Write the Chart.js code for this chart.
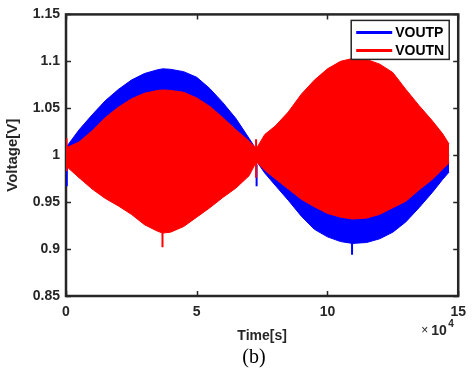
<!DOCTYPE html>
<html>
<head>
<meta charset="utf-8">
<script src="https://cdn.jsdelivr.net/npm/chart.js@4.4.1/dist/chart.umd.min.js"></script>
<style>
    html, body { margin: 0; padding: 0; background: #fff; }
    #chart { display: block; }
</style>
</head>
<body>
<canvas id="chart" width="474" height="372"></canvas>
<script>
// data (time in units of 1e4 s)
const seriesNames = ['VOUTP', 'VOUTN'];
const seriesColors = ['#0000ff', '#ff0000'];

const timeGrid = [0, 0.1, 0.5, 1.0, 1.5, 2.0, 2.5, 3.0, 3.5, 3.7, 4.0, 4.5, 5.0, 5.5, 6.0, 6.5, 7.0, 7.28,
    7.6, 8.0, 8.5, 9.0, 9.5, 10.0, 10.5, 10.95, 11.5, 12.0, 12.5, 13.0, 13.5, 14.0, 14.4, 14.65];

// envelope of the VOUTP oscillation
const voutpUpper = [1.008, 1.012, 1.027, 1.043, 1.058, 1.07, 1.08, 1.087, 1.091, 1.092, 1.0915, 1.089, 1.083, 1.071, 1.056, 1.039, 1.018, 1.006,
    1.01, 1.02, 1.03, 1.045, 1.06, 1.07, 1.077, 1.08, 1.079, 1.074, 1.065, 1.05, 1.035, 1.02, 1.01, 1.0];
const voutpLower = [0.992, 0.993, 0.985, 0.974, 0.964, 0.956, 0.948, 0.94, 0.934, 0.932, 0.933, 0.937, 0.944, 0.953, 0.962, 0.972, 0.983, 0.994,
    0.981, 0.968, 0.952, 0.935, 0.921, 0.913, 0.908, 0.906, 0.907, 0.911, 0.918, 0.929, 0.944, 0.96, 0.974, 0.982];

// envelope of the VOUTN oscillation
const voutnUpper = [1.009, 1.009, 1.014, 1.026, 1.04, 1.051, 1.06, 1.066, 1.069, 1.0695, 1.069, 1.067, 1.061, 1.052, 1.04, 1.027, 1.015, 1.007,
    1.022, 1.031, 1.046, 1.065, 1.08, 1.092, 1.1, 1.103, 1.102, 1.097, 1.088, 1.07, 1.053, 1.037, 1.023, 1.012];
const voutnLower = [0.988, 0.986, 0.976, 0.964, 0.954, 0.946, 0.937, 0.926, 0.919, 0.917, 0.918, 0.924, 0.934, 0.944, 0.955, 0.965, 0.978, 0.993,
    0.984, 0.975, 0.964, 0.953, 0.945, 0.938, 0.934, 0.932, 0.933, 0.937, 0.944, 0.951, 0.963, 0.974, 0.985, 0.992];

// short switching spikes
const voutpSpikeTime = [0.03, 7.29, 10.94];
const voutpSpikeLow = [0.967, 0.967, 0.894];
const voutpSpikeHigh = [0.99, 0.99, 0.91];
const voutnSpikeTime = [0.02, 3.69, 7.27];
const voutnSpikeLow = [0.983, 0.902, 0.976];
const voutnSpikeHigh = [1.018, 0.918, 1.017];

const xTickValues = [0, 5, 10, 15];
const xTickLabels = ['0', '5', '10', '15'];
const yTickValues = [0.85, 0.9, 0.95, 1.0, 1.05, 1.1, 1.15];
const yTickLabels = ['0.85', '0.9', '0.95', '1', '1.05', '1.1', '1.15'];

const axisColor = '#262626';
const sansFont = '"Liberation Sans", Arial, sans-serif';

function toPoints(xs, ys) {
    return xs.map((x, i) => ({ x: x, y: ys[i] }));
}

function bandDatasets(upper, lower, color, order) {
    return [
        { data: toPoints(timeGrid, upper), borderColor: color, backgroundColor: color, borderWidth: 1, fill: '+1', order: order },
        { data: toPoints(timeGrid, lower), borderColor: color, backgroundColor: color, borderWidth: 1, fill: false, order: order }
    ];
}

function spikeDatasets(times, lows, highs, color, order) {
    return times.map((t, i) => ({
        data: [{ x: t, y: lows[i] }, { x: t, y: highs[i] }],
        borderColor: color,
        borderWidth: 2,
        fill: false,
        order: order
    }));
}

// frame, inward ticks, legend and extra labels in the matlab look
const matlabDecor = {
    id: 'matlabDecor',
    beforeDatasetsDraw(chart) {
        const { ctx, chartArea: a, scales } = chart;
        ctx.save();
        ctx.strokeStyle = axisColor;
        ctx.lineWidth = 1.5;
        ctx.beginPath();
        yTickValues.forEach((v) => {
            const py = Math.round(scales.y.getPixelForValue(v)) + 0.5;
            ctx.moveTo(a.left, py); ctx.lineTo(a.left + 5, py);
            ctx.moveTo(a.right, py); ctx.lineTo(a.right - 5, py);
        });
        xTickValues.forEach((v) => {
            const px = Math.round(scales.x.getPixelForValue(v)) + 0.5;
            ctx.moveTo(px, a.bottom); ctx.lineTo(px, a.bottom - 5);
            ctx.moveTo(px, a.top); ctx.lineTo(px, a.top + 5);
        });
        ctx.stroke();
        ctx.lineWidth = 2.5;
        ctx.strokeRect(a.left, a.top, a.right - a.left, a.bottom - a.top);
        ctx.restore();
    },
    afterDraw(chart) {
        const { ctx, chartArea: a } = chart;
        ctx.save();

        // legend box
        const bx = a.right - 107, by = a.top + 6, bw = 98, bh = 39;
        ctx.fillStyle = '#fff';
        ctx.fillRect(bx, by, bw, bh);
        ctx.strokeStyle = axisColor;
        ctx.lineWidth = 1.5;
        ctx.strokeRect(bx, by, bw, bh);
        ctx.font = 'bold 14px ' + sansFont;
        ctx.textBaseline = 'middle';
        ctx.textAlign = 'left';
        seriesNames.forEach((name, i) => {
            const ly = by + 12 + i * 18;
            ctx.strokeStyle = seriesColors[i];
            ctx.lineWidth = 3;
            ctx.beginPath();
            ctx.moveTo(bx + 5, ly);
            ctx.lineTo(bx + 41, ly);
            ctx.stroke();
            ctx.fillStyle = '#000';
            ctx.fillText(name, bx + 44, ly + 1);
        });

        // x10^4 exponent under the x axis
        ctx.fillStyle = axisColor;
        ctx.font = '12px ' + sansFont;
        ctx.fillText('\u00d7', a.right - 37, a.bottom + 35);
        ctx.font = 'bold 14px ' + sansFont;
        ctx.fillText('10', a.right - 27, a.bottom + 35);
        ctx.font = 'bold 10px ' + sansFont;
        ctx.fillText('4', a.right - 10, a.bottom + 28);

        // panel caption
        ctx.fillStyle = '#000';
        ctx.font = '20px "Liberation Serif", "Times New Roman", serif';
        ctx.textAlign = 'center';
        ctx.fillText('(b)', 254, 358);
        ctx.restore();
    }
};

const ctxt = document.getElementById('chart').getContext('2d');

const datasets = [].concat(
    bandDatasets(voutnUpper, voutnLower, seriesColors[1], 0),
    spikeDatasets(voutnSpikeTime, voutnSpikeLow, voutnSpikeHigh, seriesColors[1], 0),
    bandDatasets(voutpUpper, voutpLower, seriesColors[0], 1),
    spikeDatasets(voutpSpikeTime, voutpSpikeLow, voutpSpikeHigh, seriesColors[0], 1)
);

const chart = new Chart(ctxt, {
    type: 'line',
    data: { datasets: datasets },
    options: {
        responsive: false,
        animation: false,
        events: [],
        layout: { padding: { top: 11, right: 14, bottom: 22, left: 0 } },
        elements: { point: { radius: 0 }, line: { tension: 0 } },
        plugins: { legend: { display: false }, tooltip: { enabled: false } },
        scales: {
            x: {
                type: 'linear',
                min: 0,
                max: 15,
                grid: { display: false, drawTicks: false },
                border: { display: false },
                afterBuildTicks: (s) => { s.ticks = xTickValues.map((v) => ({ value: v })); },
                afterFit: (s) => { s.height = 54; },
                ticks: {
                    padding: 8,
                    color: axisColor,
                    font: { family: sansFont, size: 14, weight: 'bold' },
                    callback: (v) => xTickLabels[xTickValues.indexOf(v)]
                },
                title: {
                    display: true,
                    text: 'Time[s]',
                    color: axisColor,
                    font: { family: sansFont, size: 14, weight: 'bold' },
                    padding: { top: 0, bottom: 5 }
                }
            },
            y: {
                type: 'linear',
                min: 0.85,
                max: 1.15,
                grid: { display: false, drawTicks: false },
                border: { display: false },
                afterBuildTicks: (s) => { s.ticks = yTickValues.map((v) => ({ value: v })); },
                afterFit: (s) => { s.width = 66; },
                ticks: {
                    padding: 6,
                    color: axisColor,
                    font: { family: sansFont, size: 14, weight: 'bold' },
                    callback: (v) => yTickLabels[yTickValues.indexOf(v)]
                },
                title: {
                    display: true,
                    text: 'Voltage[V]',
                    color: axisColor,
                    font: { family: sansFont, size: 15, weight: 'bold' },
                    padding: { top: 4, bottom: 0 }
                }
            }
        }
    },
    plugins: [matlabDecor]
});
</script>
</body>
</html>
